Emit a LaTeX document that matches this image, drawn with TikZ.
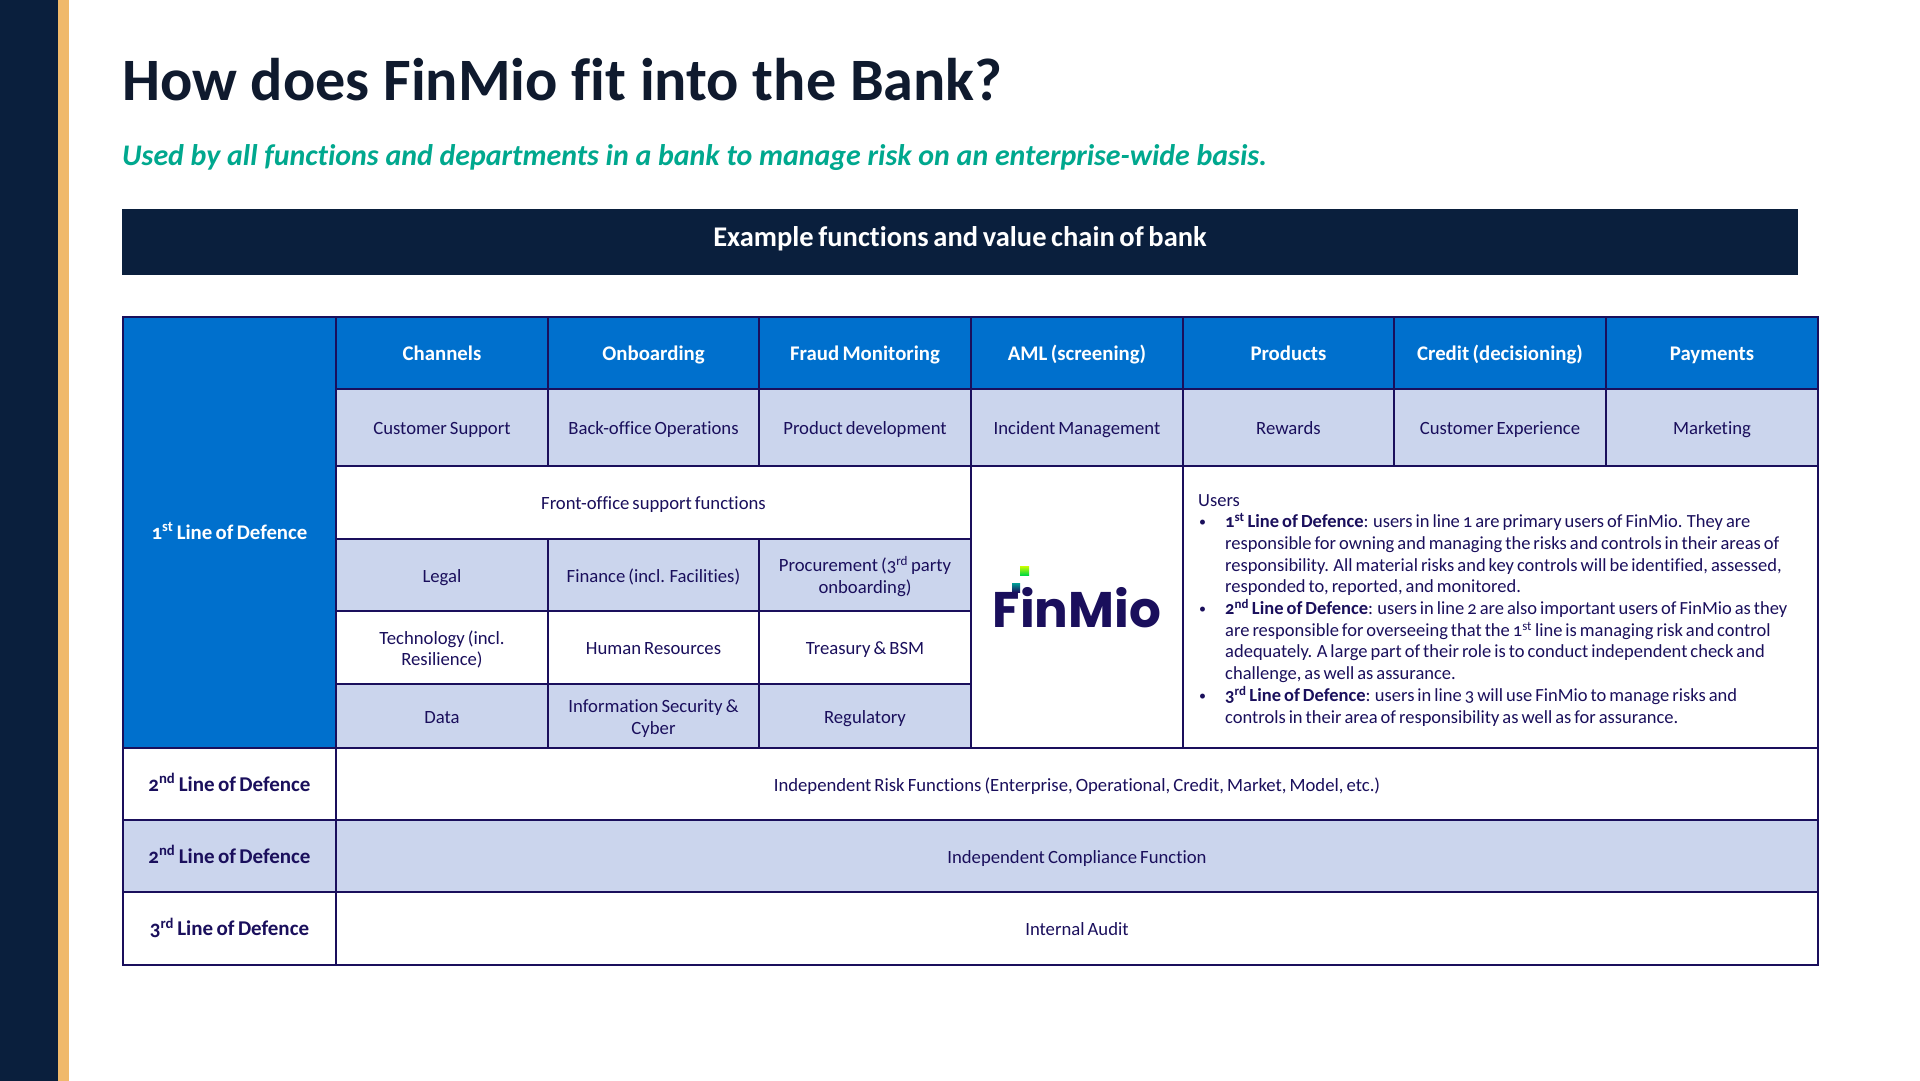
\documentclass[tikz,border=0pt]{standalone}
\usepackage{fontspec}
\setmainfont{Carlito}[Numbers=OldStyle,WordSpace=0.72,Ligatures=CommonOff]
\newfontfamily\ttlfont{Carlito}[Ligatures=CommonOff]
\newfontfamily\logofont{Poppins}
\definecolor{navy}{HTML}{0A1F3D}
\definecolor{gold}{HTML}{F0B96B}
\definecolor{ttl}{HTML}{0F1A2E}
\definecolor{teal2}{HTML}{00A88E}
\definecolor{blue2}{HTML}{0070CD}
\definecolor{light}{HTML}{CBD5ED}
\definecolor{ink}{HTML}{1A0F5C}
\newcommand{\sups}[1]{\textsuperscript{#1}}
\newcommand{\bull}{\makebox[27pt][l]{\hspace{1pt}\raisebox{1pt}{\fontsize{14}{14}\selectfont •}}}
\newcommand{\cellbox}[7]{% name, x1,y1,x2,y2, style, text
  \pgfmathsetmacro{\cw}{#4-#2}\pgfmathsetmacro{\ch}{#5-#3}
  \pgfmathsetmacro{\cx}{(#2+#4)/2}\pgfmathsetmacro{\cy}{(#3+#5)/2}
  \node[cellbase,#6,minimum width=\cw pt,minimum height=\ch pt,text width=\cw pt-6pt] (#1) at (\cx,\cy) {\rule{0pt}{21pt}#7\rule[-6.5pt]{0pt}{0pt}};}
\tikzset{
  x=1pt,y=-1pt,
  cellbase/.style={draw=ink,line width=2pt,inner sep=0pt,outer sep=0pt,align=flush center,font=\fontsize{18.7}{21.5}\selectfont,text=ink},
  headcell/.style={fill=blue2,text=white,font=\fontsize{20.8}{22}\selectfont\bfseries},
  lightcell/.style={fill=light},
  whitecell/.style={fill=white},
  linecell/.style={font=\fontsize{21}{22}\selectfont\bfseries},
}
\begin{document}
\begin{tikzpicture}
\useasboundingbox (0,0) rectangle (1920,1081);
\fill[white] (0,0) rectangle (1920,1081);
\fill[navy] (0,0) rectangle (58,1081);
\fill[gold] (58,0) rectangle (69,1081);
\node[anchor=base west,inner sep=0pt,text=ttl,font=\ttlfont\fontsize{60.2}{60}\selectfont\bfseries] (title) at (122,100) {How does FinMio fit into the Bank?};
\node[anchor=base west,inner sep=0pt,text=teal2,font=\ttlfont\fontsize{29.9}{30}\selectfont\bfseries\itshape] (sub) at (122,165.5) {Used by all functions and departments in a bank to manage risk on an enterprise-wide basis.};
\node[fill=navy,text=white,inner sep=0pt,minimum width=1675.5pt,minimum height=66pt,font=\fontsize{28.5}{30}\selectfont\bfseries] (bar) at (960,242) {\raisebox{11.5pt}{Example functions and value chain of bank}};
% left column
\cellbox{lineA}{123}{316.5}{336}{748}{headcell}{1\sups{st} Line of Defence}
% header row
\cellbox{h1}{336}{316.5}{548}{389}{headcell}{Channels}
\cellbox{h2}{548}{316.5}{759}{389}{headcell}{Onboarding}
\cellbox{h3}{759}{316.5}{971}{389}{headcell}{Fraud Monitoring}
\cellbox{h4}{971}{316.5}{1183}{389}{headcell}{AML (screening)}
\cellbox{h5}{1183}{316.5}{1394}{389}{headcell}{Products}
\cellbox{h6}{1394}{316.5}{1606}{389}{headcell}{Credit (decisioning)}
\cellbox{h7}{1606}{316.5}{1818}{389}{headcell}{Payments}
% second row
\cellbox{r1}{336}{389}{548}{466}{lightcell}{Customer Support}
\cellbox{r2}{548}{389}{759}{466}{lightcell}{Back-office Operations}
\cellbox{r3}{759}{389}{971}{466}{lightcell}{Product development}
\cellbox{r4}{971}{389}{1183}{466}{lightcell}{Incident Management}
\cellbox{r5}{1183}{389}{1394}{466}{lightcell}{Rewards}
\cellbox{r6}{1394}{389}{1606}{466}{lightcell}{Customer Experience}
\cellbox{r7}{1606}{389}{1818}{466}{lightcell}{Marketing}
% front office
\cellbox{fo}{336}{466}{971}{539}{whitecell}{Front-office support functions}
\cellbox{c1}{336}{539}{548}{611}{lightcell}{Legal}
\cellbox{c2}{548}{539}{759}{611}{lightcell}{Finance (incl. Facilities)}
\cellbox{c3}{759}{539}{971}{611}{lightcell}{Procurement (3\sups{rd} party\\onboarding)}
\cellbox{d1}{336}{611}{548}{684}{whitecell}{Technology (incl.\\Resilience)}
\cellbox{d2}{548}{611}{759}{684}{whitecell}{Human Resources}
\cellbox{d3}{759}{611}{971}{684}{whitecell}{Treasury \& BSM}
\cellbox{e1}{336}{684}{548}{748}{lightcell}{Data}
\cellbox{e2}{548}{684}{759}{748}{lightcell}{Information Security \&\\Cyber}
\cellbox{e3}{759}{684}{971}{748}{lightcell}{Regulatory}
% logo
\cellbox{logo}{971}{466}{1183}{748}{whitecell}{}
\node[anchor=base,inner sep=0pt,text=ink,font=\logofont\fontsize{50}{50}\selectfont\bfseries] (logotext) at (1077,627) {FinMio};
\shade[top color=teal2!85!blue2,bottom color=ink] (1012,583) rectangle (1020,592);
\shade[top color=yellow!80!green,bottom color=green!55!teal2] (1020,566) rectangle (1029,575);
% users
\cellbox{users}{1183}{466}{1818}{748}{whitecell}{}
\node[anchor=north west,inner sep=0pt,text width=625pt,align=flush left,text=ink,font=\fontsize{18.5}{21.7}\selectfont] (usertext) at (1198,494) {Users\\[0pt]
\begin{minipage}[t]{625pt}\leftskip=27pt\parindent=-27pt\rightskip=0pt plus 1fil\parfillskip=0pt plus 1fil
\bull\textbf{1\sups{st} Line of Defence}: users in line 1 are primary users of FinMio. They are\newline responsible for owning and managing the risks and controls in their areas of\newline responsibility. All material risks and key controls will be identified, assessed,\newline responded to, reported, and monitored.\par
\bull\textbf{2\sups{nd} Line of Defence}: users in line 2 are also important users of FinMio as they\newline are responsible for overseeing that the 1\sups{st} line is managing risk and control\newline adequately. A large part of their role is to conduct independent check and\newline challenge, as well as assurance.\par
\bull\textbf{3\sups{rd} Line of Defence}: users in line 3 will use FinMio to manage risks and\newline controls in their area of responsibility as well as for assurance.\par
\end{minipage}};
% lower rows
\cellbox{l2a}{123}{748}{336}{820}{whitecell,linecell}{2\sups{nd} Line of Defence}
\cellbox{t2a}{336}{748}{1818}{820}{whitecell}{Independent Risk Functions (Enterprise, Operational, Credit, Market, Model, etc.)}
\cellbox{l2b}{123}{820}{336}{892}{lightcell,linecell}{2\sups{nd} Line of Defence}
\cellbox{t2b}{336}{820}{1818}{892}{lightcell}{Independent Compliance Function}
\cellbox{l3}{123}{892}{336}{965}{whitecell,linecell}{3\sups{rd} Line of Defence}
\cellbox{t3}{336}{892}{1818}{965}{whitecell}{Internal Audit}
\end{tikzpicture}
\end{document}
